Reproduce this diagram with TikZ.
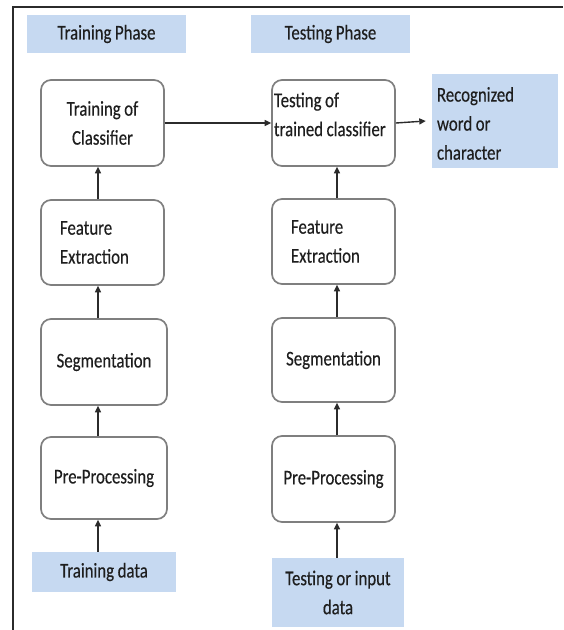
\documentclass[tikz,border=0pt]{standalone}
\usepackage{fontspec}
\setmainfont{Carlito}[FakeStretch=0.8, FakeBold=0.3]
\usetikzlibrary{arrows.meta}
\definecolor{phaseblue}{HTML}{C6D9F1}
\definecolor{boxgray}{HTML}{7F7F7F}
\definecolor{txt}{HTML}{1E1E1E}
\definecolor{arrcol}{HTML}{2B2B2B}
\newcommand{\dgfont}{\fontsize{21}{29}\selectfont\spaceskip=0.17em plus 0.05em minus 0.03em\relax}
\newcommand{\leftlines}[2]{\raisebox{#1}[0pt][0pt]{\begin{tabular}{@{}l@{}}#2\end{tabular}}}
\begin{document}
\begin{tikzpicture}[x=1pt,y=-1pt,
  every node/.style={font=\dgfont, text=txt},
  proc/.style={draw=boxgray, line width=1.7pt, rounded corners=10pt, fill=white, inner sep=0pt},
  blue/.style={fill=phaseblue, draw=none, inner sep=0pt},
  arr/.style={draw=arrcol, line width=1.4pt, -{Triangle[length=6.5pt,width=6pt]}}]
\useasboundingbox (0,0) rectangle (563,630);
\draw[line width=1.2pt, arrcol] (13,630) -- (13,7) -- (563,7);

% headers
\node[blue, minimum width=159, minimum height=38] (hp1) at (106.5,34) {Training Phase};
\node[blue, minimum width=159, minimum height=38] (hp2) at (330.5,34) {Testing Phase};

% left column
\node[proc, minimum width=123, minimum height=86, align=center] (tc) at (102.5,123) {Training of\\Classifier};
\node[proc, minimum width=123, minimum height=85, align=flush left, text width=85, inner xsep=19] (fe1) at (102.5,242.5) {Feature\\ Extraction};
\node[proc, minimum width=126, minimum height=86] (sg1) at (104,362) {Segmentation};
\node[proc, minimum width=126, minimum height=82] (pp1) at (104,478) {Pre-Processing};
\node[blue, minimum width=144, minimum height=40] (td) at (104,572) {Training data};

% right column
\node[proc, minimum width=123, minimum height=86, align=flush left, text width=119, inner xsep=2] (tt) at (333.5,123) {\leftlines{2pt}{Testing of\\trained classifier}};
\node[proc, minimum width=123, minimum height=85, align=flush left, text width=85, inner xsep=19] (fe2) at (333.5,241.5) {Feature\\ Extraction};
\node[proc, minimum width=123, minimum height=84] (sg2) at (333.5,360) {Segmentation};
\node[proc, minimum width=123, minimum height=86] (pp2) at (333.5,479) {Pre-Processing};
\node[blue, minimum width=132, minimum height=69, align=center] (tid) at (338,592.5) {Testing or input\\data};

% output
\node[blue, minimum width=126, minimum height=94, align=flush left, text width=116, inner xsep=5] (rec) at (495,121) {\leftlines{-9pt}{Recognized\\word or\\character}};

\coordinate (colL) at (98,0);
\coordinate (colR) at (337,0);

\draw[arr] (td.north -| colL) -- (pp1.south -| colL);
\draw[arr] (pp1.north -| colL) -- (sg1.south -| colL);
\draw[arr] (sg1.north -| colL) -- (fe1.south -| colL);
\draw[arr] (fe1.north -| colL) -- (tc.south -| colL);

\draw[arr] (tid.north -| colR) -- (pp2.south -| colR);
\draw[arr] (pp2.north -| colR) -- (sg2.south -| colR);
\draw[arr] (sg2.north -| colR) -- (fe2.south -| colR);
\draw[arr] (fe2.north -| colR) -- (tt.south -| colR);

\draw[arr] (tc.east) -- (tt.west);
\draw[arr] (tt.east) -- ([xshift=-6pt]rec.west);
\end{tikzpicture}
\end{document}
